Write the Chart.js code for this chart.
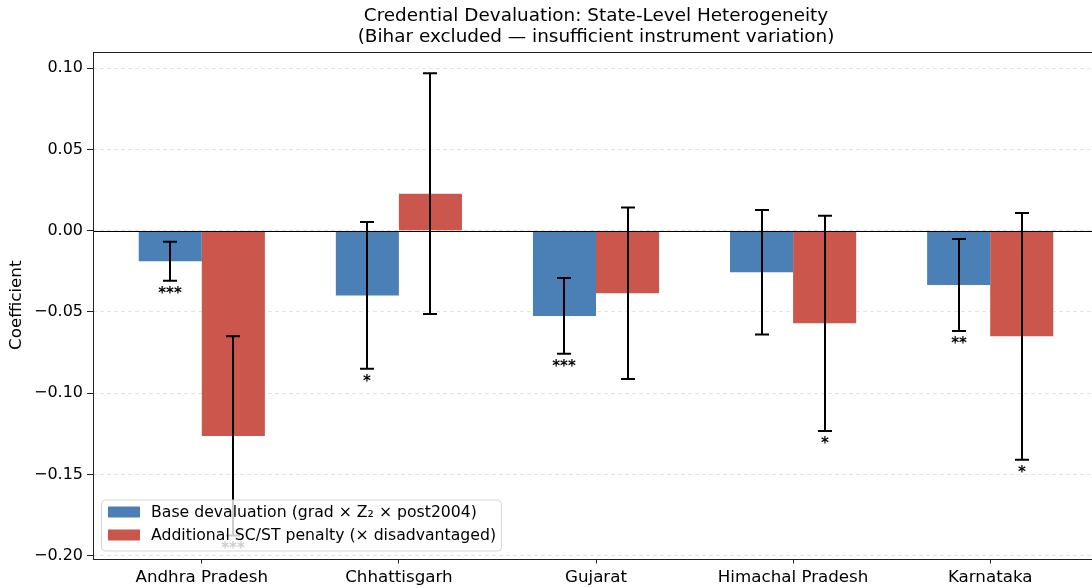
<!DOCTYPE html>
<html>
<head>
<meta charset="utf-8">
<script src="https://cdn.jsdelivr.net/npm/chart.js@4.4.0/dist/chart.umd.min.js"></script>
<style>
  html, body { margin: 0; padding: 0; background: #fff; overflow: hidden; }
  #wrap { width: 1110px; height: 588px; }
</style>
</head>
<body>
<div id="wrap"><canvas id="coefChart" width="1110" height="588"></canvas></div>
<script>
// data
const states = ['Andhra Pradesh', 'Chhattisgarh', 'Gujarat', 'Himachal Pradesh', 'Karnataka'];
const baseCoef = [-0.0188, -0.0398, -0.0524, -0.0255, -0.0334];
const baseErr = [0.0120, 0.0452, 0.0233, 0.0383, 0.0283];
const baseStars = ['***', '*', '***', '', '**'];
const penaltyCoef = [-0.1263, 0.0228, -0.0385, -0.0570, -0.0650];
const penaltyErr = [0.0613, 0.0741, 0.0528, 0.0662, 0.0759];
const penaltyStars = ['***', '', '', '*', '*'];
const yTicks = [-0.20, -0.15, -0.10, -0.05, 0.00, 0.05, 0.10];
const seriesLabels = [
  'Base devaluation (grad \u00d7 Z\u2082 \u00d7 post2004)',
  'Additional SC/ST penalty (\u00d7 disadvantaged)'
];
const titleLines = [
  'Credential Devaluation: State-Level Heterogeneity',
  '(Bihar excluded \u2014 insufficient instrument variation)'
];

const BLUE = 'rgb(74,128,181)';
const RED = 'rgb(203,87,76)';
const FONT = '"DejaVu Sans", sans-serif';

const fmt = v => (v < -1e-9 ? '\u2212' : '') + Math.abs(v).toFixed(2);

// zero line, error bars, stars, frame, legend, titles
const decor = {
  id: 'decor',
  beforeDraw(chart) {
    const ctx = chart.ctx;
    ctx.save();
    ctx.fillStyle = '#fff';
    ctx.fillRect(0, 0, chart.width, chart.height);
    ctx.restore();
  },
  afterDatasetsDraw(chart) {
    const { ctx, chartArea: a, scales: { y } } = chart;
    ctx.save();
    // zero line
    const y0 = Math.round(y.getPixelForValue(0)) + 0.5;
    ctx.strokeStyle = '#000';
    ctx.lineWidth = 1.2;
    ctx.beginPath();
    ctx.moveTo(a.left, y0);
    ctx.lineTo(a.right, y0);
    ctx.stroke();

    const series = [[baseCoef, baseErr, baseStars], [penaltyCoef, penaltyErr, penaltyStars]];
    series.forEach(([coef, err, stars], di) => {
      const meta = chart.getDatasetMeta(di);
      meta.data.forEach((bar, i) => {
        const bx = Math.round(bar.x);
        const top = y.getPixelForValue(coef[i] + err[i]);
        const bot = y.getPixelForValue(coef[i] - err[i]);
        ctx.strokeStyle = '#000';
        ctx.lineWidth = 2;
        ctx.beginPath();
        ctx.moveTo(bx, top); ctx.lineTo(bx, bot);
        ctx.moveTo(bx - 7, top); ctx.lineTo(bx + 7, top);
        ctx.moveTo(bx - 7, bot); ctx.lineTo(bx + 7, bot);
        ctx.stroke();
        if (stars[i]) {
          ctx.fillStyle = '#000';
          ctx.font = 'bold 15px ' + FONT;
          ctx.textAlign = 'center';
          ctx.textBaseline = 'alphabetic';
          ctx.fillText(stars[i], bx, bot + 17);
        }
      });
    });

    // frame
    ctx.strokeStyle = '#222';
    ctx.lineWidth = 1;
    ctx.strokeRect(Math.round(a.left) + 0.5, Math.round(a.top) + 0.5,
      Math.round(a.right - a.left), Math.round(a.bottom - a.top));
    ctx.restore();
  },
  afterDraw(chart) {
    const { ctx, chartArea: a } = chart;
    ctx.save();
    // legend
    const lx = a.left + 8, lw = 400, lh = 51, ly = a.bottom - 8 - lh;
    ctx.beginPath();
    ctx.roundRect(lx + 0.5, ly + 0.5, lw, lh, 4);
    ctx.fillStyle = 'rgba(255,255,255,0.8)';
    ctx.fill();
    ctx.strokeStyle = 'rgba(204,204,204,0.8)';
    ctx.lineWidth = 1;
    ctx.stroke();
    [BLUE, RED].forEach((c, k) => {
      const ry = ly + 7 + k * 23;
      ctx.fillStyle = c;
      ctx.fillRect(lx + 7, ry, 32, 11);
      ctx.fillStyle = '#000';
      ctx.font = '15.7px ' + FONT;
      ctx.textAlign = 'left';
      ctx.textBaseline = 'middle';
      ctx.fillText(seriesLabels[k], lx + 50, ry + 6);
    });

    // title
    const cx = (a.left + a.right) / 2;
    ctx.fillStyle = '#000';
    ctx.font = '18.4px ' + FONT;
    ctx.textAlign = 'center';
    ctx.textBaseline = 'middle';
    ctx.fillText(titleLines[0], cx, 16);
    ctx.fillText(titleLines[1], cx, 37);

    // y axis label
    ctx.translate(17, (a.top + a.bottom) / 2);
    ctx.rotate(-Math.PI / 2);
    ctx.font = '16.7px ' + FONT;
    ctx.fillText('Coefficient', 0, 0);
    ctx.restore();
  }
};

const chart = new Chart(document.getElementById('coefChart'), {
  type: 'bar',
  data: {
    datasets: [
      {
        label: seriesLabels[0],
        data: baseCoef.map((v, i) => ({ x: i, y: v })),
        backgroundColor: BLUE,
        borderWidth: 0
      },
      {
        label: seriesLabels[1],
        data: penaltyCoef.map((v, i) => ({ x: i, y: v })),
        backgroundColor: RED,
        borderWidth: 0
      }
    ]
  },
  options: {
    responsive: false,
    devicePixelRatio: 1,
    animation: false,
    categoryPercentage: 0.64,
    barPercentage: 1.0,
    layout: { padding: { left: 0, right: 11, top: 52, bottom: 0 } },
    plugins: {
      legend: { display: false },
      tooltip: { enabled: false },
      title: { display: false }
    },
    scales: {
      x: {
        type: 'linear',
        offset: false,
        min: -0.552,
        max: 4.552,
        afterBuildTicks: (scale) => { scale.ticks = states.map((_, i) => ({ value: i })); },
        afterFit: (scale) => { scale.height = 29.5; },
        grid: { offset: false, drawOnChartArea: false, drawTicks: true, tickLength: 5, tickColor: '#222', tickBorderDash: [] },
        border: { display: false },
        ticks: {
          color: '#000',
          padding: 4,
          maxRotation: 0,
          autoSkip: false,
          font: { family: FONT, size: 16.7 },
          callback: (v) => states[v]
        }
      },
      y: {
        min: -0.2017,
        max: 0.1100,
        afterBuildTicks: (scale) => { scale.ticks = yTicks.map(v => ({ value: v })); },
        afterFit: (scale) => { scale.width = 93; },
        grid: {
          color: '#e4e4e4',
          lineWidth: 1,
          drawTicks: true,
          tickLength: 6,
          tickColor: '#222',
          tickBorderDash: []
        },
        border: { display: false, dash: [4, 3] },
        ticks: {
          color: '#000',
          padding: 4,
          font: { family: FONT, size: 16 },
          callback: (v) => fmt(v)
        }
      }
    }
  },
  plugins: [decor]
});
</script>
</body>
</html>
